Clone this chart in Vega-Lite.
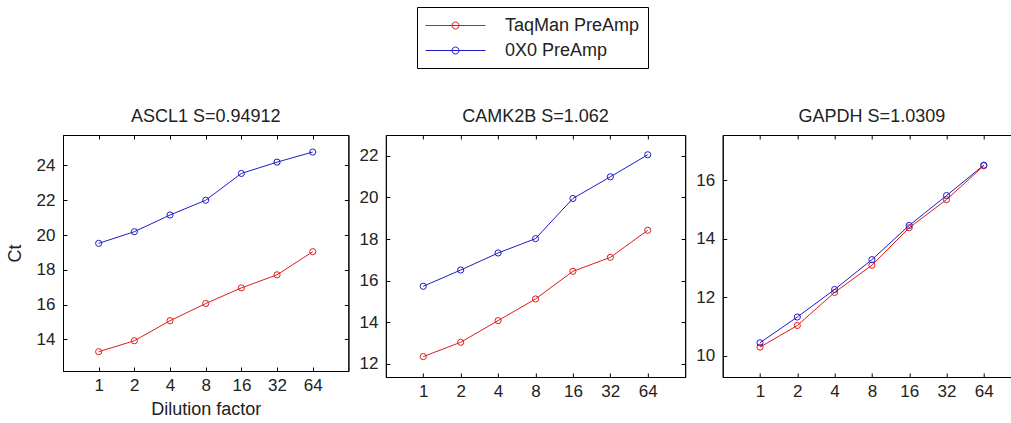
{
  "$schema": "https://vega.github.io/schema/vega-lite/v6.json",
  "background": "white",
  "autosize": {"type": "pad"},
  "padding": {"left": 5, "top": 6, "right": 0, "bottom": 0},
  "datasets": {
    "d": [
      {"gene": "ASCL1", "series": "TaqMan PreAmp", "dilution": 1, "ct": 13.29},
      {"gene": "ASCL1", "series": "TaqMan PreAmp", "dilution": 2, "ct": 13.92},
      {"gene": "ASCL1", "series": "TaqMan PreAmp", "dilution": 4, "ct": 15.07},
      {"gene": "ASCL1", "series": "TaqMan PreAmp", "dilution": 8, "ct": 16.06},
      {"gene": "ASCL1", "series": "TaqMan PreAmp", "dilution": 16, "ct": 16.96},
      {"gene": "ASCL1", "series": "TaqMan PreAmp", "dilution": 32, "ct": 17.71},
      {"gene": "ASCL1", "series": "TaqMan PreAmp", "dilution": 64, "ct": 19.04},
      {"gene": "ASCL1", "series": "0X0 PreAmp", "dilution": 1, "ct": 19.52},
      {"gene": "ASCL1", "series": "0X0 PreAmp", "dilution": 2, "ct": 20.19},
      {"gene": "ASCL1", "series": "0X0 PreAmp", "dilution": 4, "ct": 21.15},
      {"gene": "ASCL1", "series": "0X0 PreAmp", "dilution": 8, "ct": 22.0},
      {"gene": "ASCL1", "series": "0X0 PreAmp", "dilution": 16, "ct": 23.54},
      {"gene": "ASCL1", "series": "0X0 PreAmp", "dilution": 32, "ct": 24.19},
      {"gene": "ASCL1", "series": "0X0 PreAmp", "dilution": 64, "ct": 24.77},
      {"gene": "CAMK2B", "series": "TaqMan PreAmp", "dilution": 1, "ct": 12.35},
      {"gene": "CAMK2B", "series": "TaqMan PreAmp", "dilution": 2, "ct": 13.04},
      {"gene": "CAMK2B", "series": "TaqMan PreAmp", "dilution": 4, "ct": 14.08},
      {"gene": "CAMK2B", "series": "TaqMan PreAmp", "dilution": 8, "ct": 15.12},
      {"gene": "CAMK2B", "series": "TaqMan PreAmp", "dilution": 16, "ct": 16.45},
      {"gene": "CAMK2B", "series": "TaqMan PreAmp", "dilution": 32, "ct": 17.12},
      {"gene": "CAMK2B", "series": "TaqMan PreAmp", "dilution": 64, "ct": 18.42},
      {"gene": "CAMK2B", "series": "0X0 PreAmp", "dilution": 1, "ct": 15.73},
      {"gene": "CAMK2B", "series": "0X0 PreAmp", "dilution": 2, "ct": 16.51},
      {"gene": "CAMK2B", "series": "0X0 PreAmp", "dilution": 4, "ct": 17.33},
      {"gene": "CAMK2B", "series": "0X0 PreAmp", "dilution": 8, "ct": 18.02},
      {"gene": "CAMK2B", "series": "0X0 PreAmp", "dilution": 16, "ct": 19.95},
      {"gene": "CAMK2B", "series": "0X0 PreAmp", "dilution": 32, "ct": 20.99},
      {"gene": "CAMK2B", "series": "0X0 PreAmp", "dilution": 64, "ct": 22.05},
      {"gene": "GAPDH", "series": "TaqMan PreAmp", "dilution": 1, "ct": 10.3},
      {"gene": "GAPDH", "series": "TaqMan PreAmp", "dilution": 2, "ct": 11.04},
      {"gene": "GAPDH", "series": "TaqMan PreAmp", "dilution": 4, "ct": 12.17},
      {"gene": "GAPDH", "series": "TaqMan PreAmp", "dilution": 8, "ct": 13.1},
      {"gene": "GAPDH", "series": "TaqMan PreAmp", "dilution": 16, "ct": 14.38},
      {"gene": "GAPDH", "series": "TaqMan PreAmp", "dilution": 32, "ct": 15.34},
      {"gene": "GAPDH", "series": "TaqMan PreAmp", "dilution": 64, "ct": 16.5},
      {"gene": "GAPDH", "series": "0X0 PreAmp", "dilution": 1, "ct": 10.45},
      {"gene": "GAPDH", "series": "0X0 PreAmp", "dilution": 2, "ct": 11.33},
      {"gene": "GAPDH", "series": "0X0 PreAmp", "dilution": 4, "ct": 12.27},
      {"gene": "GAPDH", "series": "0X0 PreAmp", "dilution": 8, "ct": 13.29},
      {"gene": "GAPDH", "series": "0X0 PreAmp", "dilution": 16, "ct": 14.46},
      {"gene": "GAPDH", "series": "0X0 PreAmp", "dilution": 32, "ct": 15.48},
      {"gene": "GAPDH", "series": "0X0 PreAmp", "dilution": 64, "ct": 16.52}
    ]
  },
  "data": {"name": "d"},
  "config": {
    "font": "Liberation Sans",
    "view": {"stroke": "black", "strokeWidth": 1},
    "axis": {
      "grid": false, "domainColor": "black", "domainWidth": 1, "tickColor": "black", "tickWidth": 1,
      "tickSize": -4, "labelFontSize": 17, "labelColor": "#222", "labelFont": "Liberation Sans",
      "titleFont": "Liberation Sans", "titleFontSize": 18, "titleFontWeight": "normal", "titleColor": "#222"
    },
    "title": {"fontSize": 18, "fontWeight": "normal", "color": "#222", "font": "Liberation Sans", "anchor": "middle", "frame": "group", "offset": 9},
    "legend": {
      "orient": "none", "legendX": 354, "legendY": -128, "title": null,
      "strokeColor": "black", "fillColor": "white", "padding": 8, "rowPadding": 5,
      "symbolType": "M-3,0H3M0.35,0A0.35,0.35 0 1,1 -0.35,0A0.35,0.35 0 1,1 0.35,0Z",
      "symbolSize": 400, "symbolStrokeWidth": 1, "symbolFillColor": "transparent",
      "symbolOffset": 20, "labelOffset": 39, "labelFontSize": 18, "labelFont": "Liberation Sans", "labelColor": "#222"
    }
  },
  "bounds": "flush",
  "spacing": 36.85,
  "hconcat": [
    {
      "width": 285.4, "height": 236,
      "title": "ASCL1 S=0.94912",
      "transform": [{"filter": "datum.gene === 'ASCL1'"}],
      "layer": [
        {
          "mark": {"type": "line", "strokeWidth": 1},
          "encoding": {
            "x": {"field": "dilution", "type": "quantitative", "scale": {"type": "log", "base": 2, "domain": [0.5, 128]},
                  "axis": {"orient": "bottom", "values": [1, 2, 4, 8, 16, 32, 64], "format": "d", "title": "Dilution factor", "labelPadding": 10, "titlePadding": 7}},
            "y": {"field": "ct", "type": "quantitative", "scale": {"domain": [12.18, 25.75], "zero": false, "nice": false},
                  "axis": {"orient": "left", "values": [14, 16, 18, 20, 22, 24], "title": "Ct", "labelPadding": 12, "titlePadding": 12}},
            "color": {"field": "series", "type": "nominal",
                      "scale": {"domain": ["TaqMan PreAmp", "0X0 PreAmp"], "range": ["#dd1c1c", "#1c1cc8"]}}
          }
        },
        {
          "mark": {"type": "point", "shape": "circle", "filled": false, "size": 38, "strokeWidth": 1, "opacity": 1},
          "encoding": {
            "x": {"field": "dilution", "type": "quantitative", "scale": {"type": "log", "base": 2, "domain": [0.5, 128]},
                  "axis": {"orient": "top", "values": [1, 2, 4, 8, 16, 32, 64], "labels": false, "title": null}},
            "y": {"field": "ct", "type": "quantitative", "scale": {"domain": [12.18, 25.75], "zero": false, "nice": false},
                  "axis": {"orient": "right", "values": [14, 16, 18, 20, 22, 24], "labels": false, "title": null}},
            "color": {"field": "series", "type": "nominal"}
          }
        }
      ],
      "resolve": {"axis": {"x": "independent", "y": "independent"}}
    },
    {
      "width": 299.3, "height": 242,
      "title": "CAMK2B S=1.062",
      "transform": [{"filter": "datum.gene === 'CAMK2B'"}],
      "layer": [
        {
          "mark": {"type": "line", "strokeWidth": 1},
          "encoding": {
            "x": {"field": "dilution", "type": "quantitative", "scale": {"type": "log", "base": 2, "domain": [0.5, 128]},
                  "axis": {"orient": "bottom", "values": [1, 2, 4, 8, 16, 32, 64], "format": "d", "title": null, "labelPadding": 10}},
            "y": {"field": "ct", "type": "quantitative", "scale": {"domain": [11.37, 23.0], "zero": false, "nice": false},
                  "axis": {"orient": "left", "values": [12, 14, 16, 18, 20, 22], "title": null, "labelPadding": 12}},
            "color": {"field": "series", "type": "nominal"}
          }
        },
        {
          "mark": {"type": "point", "shape": "circle", "filled": false, "size": 38, "strokeWidth": 1, "opacity": 1},
          "encoding": {
            "x": {"field": "dilution", "type": "quantitative", "scale": {"type": "log", "base": 2, "domain": [0.5, 128]},
                  "axis": {"orient": "top", "values": [1, 2, 4, 8, 16, 32, 64], "labels": false, "title": null}},
            "y": {"field": "ct", "type": "quantitative", "scale": {"domain": [11.37, 23.0], "zero": false, "nice": false},
                  "axis": {"orient": "right", "values": [12, 14, 16, 18, 20, 22], "labels": false, "title": null}},
            "color": {"field": "series", "type": "nominal"}
          }
        }
      ],
      "resolve": {"axis": {"x": "independent", "y": "independent"}}
    },
    {
      "width": 298.4, "height": 242,
      "title": "GAPDH S=1.0309",
      "transform": [{"filter": "datum.gene === 'GAPDH'"}],
      "layer": [
        {
          "mark": {"type": "line", "strokeWidth": 1},
          "encoding": {
            "x": {"field": "dilution", "type": "quantitative", "scale": {"type": "log", "base": 2, "domain": [0.5, 128]},
                  "axis": {"orient": "bottom", "values": [1, 2, 4, 8, 16, 32, 64], "format": "d", "title": null, "labelPadding": 10}},
            "y": {"field": "ct", "type": "quantitative", "scale": {"domain": [9.28, 17.55], "zero": false, "nice": false},
                  "axis": {"orient": "left", "values": [10, 12, 14, 16], "title": null, "labelPadding": 12}},
            "color": {"field": "series", "type": "nominal"}
          }
        },
        {
          "mark": {"type": "point", "shape": "circle", "filled": false, "size": 38, "strokeWidth": 1, "opacity": 1},
          "encoding": {
            "x": {"field": "dilution", "type": "quantitative", "scale": {"type": "log", "base": 2, "domain": [0.5, 128]},
                  "axis": {"orient": "top", "values": [1, 2, 4, 8, 16, 32, 64], "labels": false, "title": null}},
            "y": {"field": "ct", "type": "quantitative", "scale": {"domain": [9.28, 17.55], "zero": false, "nice": false},
                  "axis": {"orient": "right", "values": [10, 12, 14, 16], "labels": false, "title": null}},
            "color": {"field": "series", "type": "nominal"}
          }
        }
      ],
      "resolve": {"axis": {"x": "independent", "y": "independent"}}
    }
  ]
}
